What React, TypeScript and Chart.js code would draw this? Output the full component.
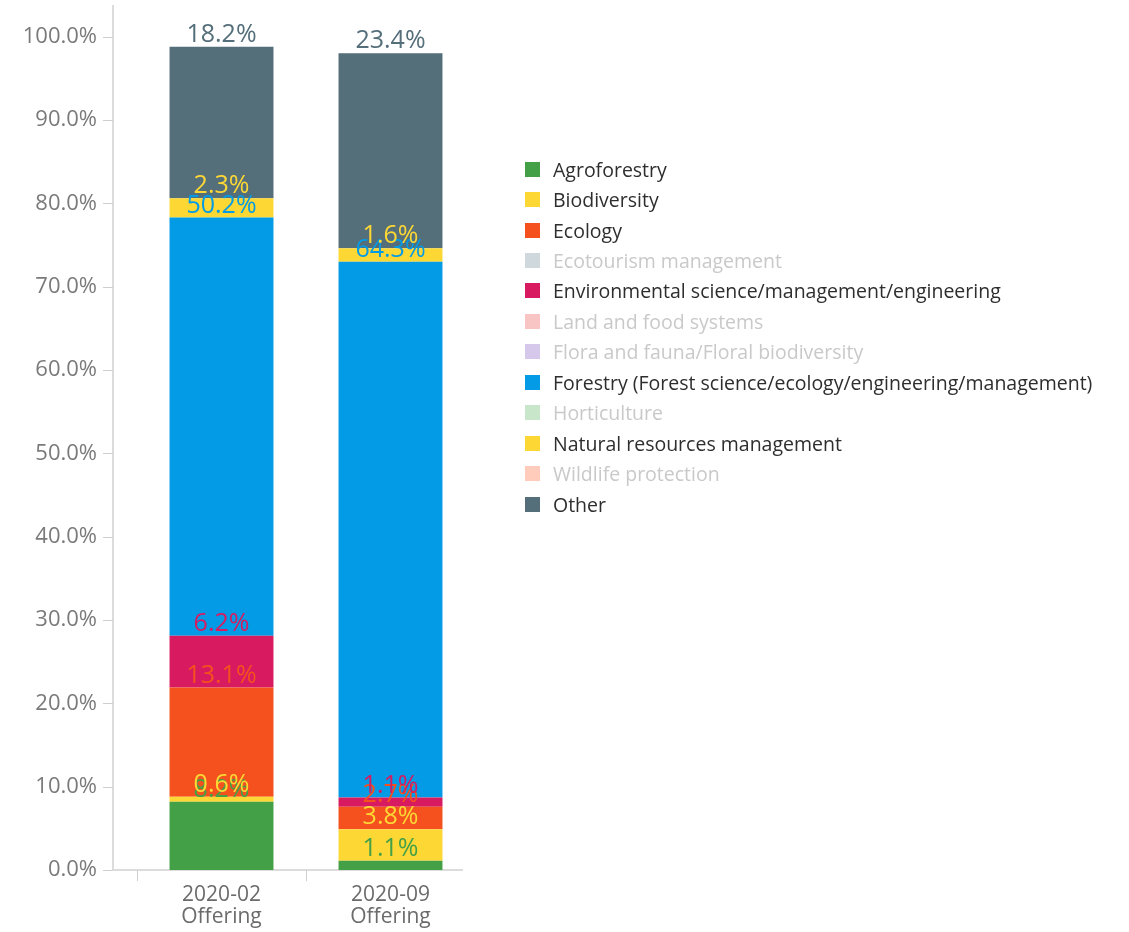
import React, { useEffect, useRef } from "react";
import { Chart, registerables } from "chart.js";

Chart.register(...registerables);

// ---- data ----
const categories: string[][] = [["2020-02", "Offering"], ["2020-09", "Offering"]];
const seriesNames = [
  "Agroforestry",
  "Biodiversity",
  "Ecology",
  "Ecotourism management",
  "Environmental science/management/engineering",
  "Land and food systems",
  "Flora and fauna/Floral biodiversity",
  "Forestry (Forest science/ecology/engineering/management)",
  "Horticulture",
  "Natural resources management",
  "Wildlife protection",
  "Other",
];
const agroforestry = [8.2, 1.1];
const biodiversity = [0.6, 3.8];
const ecology = [13.1, 2.7];
const ecotourism = [null, null];
const envScience = [6.2, 1.1];
const landFood = [null, null];
const floraFauna = [null, null];
const forestry = [50.2, 64.3];
const horticulture = [null, null];
const naturalResources = [2.3, 1.6];
const wildlife = [null, null];
const other = [18.2, 23.4];
const seriesValues = [
  agroforestry, biodiversity, ecology, ecotourism, envScience, landFood,
  floraFauna, forestry, horticulture, naturalResources, wildlife, other,
];
const seriesHidden = [false, false, false, true, false, true, true, false, true, false, true, false];
const seriesColors = [
  "#43a047", "#fdd835", "#f4511e", "#cfd8dc", "#d81b60", "#f8c4c4",
  "#d6c8ea", "#039be5", "#c8e6c9", "#fdd835", "#ffccbc", "#546e7a",
];
const yTickValues = [0, 10, 20, 30, 40, 50, 60, 70, 80, 90, 100];
const yMax = 103.8;

const FONT = "'Open Sans', 'Noto Sans', sans-serif";
const AXIS_GAP = 24; // y-axis line sits left of the first category band
const X_AXIS_SHORT = 12; // x-axis line stops short of the last band edge

const axisPlugin = {
  id: "customAxes",
  beforeDatasetsDraw(chart: any) {
    const { ctx, chartArea, scales } = chart;
    const x = scales.x;
    const y = scales.y;
    const axisX = chartArea.left - AXIS_GAP;
    ctx.save();
    ctx.strokeStyle = "#dcdcdc";
    ctx.lineWidth = 2;
    ctx.beginPath();
    ctx.moveTo(axisX, chartArea.top);
    ctx.lineTo(axisX, chartArea.bottom);
    ctx.moveTo(axisX, chartArea.bottom);
    ctx.lineTo(chartArea.right - X_AXIS_SHORT, chartArea.bottom);
    ctx.stroke();
    ctx.lineWidth = 1;
    ctx.strokeStyle = "#cfcfcf";
    ctx.beginPath();
    y.ticks.forEach((t: any) => {
      const py = Math.round(y.getPixelForValue(t.value)) + 0.5;
      ctx.moveTo(axisX - 10, py);
      ctx.lineTo(axisX, py);
    });
    const step = x.getPixelForValue(1) - x.getPixelForValue(0);
    for (let i = 0; i < categories.length; i++) {
      const px = Math.round(x.getPixelForValue(i) - step / 2) + 0.5;
      ctx.moveTo(px, chartArea.bottom);
      ctx.lineTo(px, chartArea.bottom + 11);
    }
    ctx.stroke();
    ctx.restore();
  },
};

const labelPlugin = {
  id: "segmentLabels",
  afterDatasetsDraw(chart: any) {
    const { ctx } = chart;
    ctx.save();
    ctx.font = `25px ${FONT}`;
    ctx.textAlign = "center";
    ctx.textBaseline = "alphabetic";
    chart.data.datasets.forEach((ds: any, i: number) => {
      if (!chart.isDatasetVisible(i)) return;
      const meta = chart.getDatasetMeta(i);
      meta.data.forEach((el: any, j: number) => {
        const v = ds.data[j];
        if (v === null || v === undefined) return;
        ctx.fillStyle = ds.backgroundColor;
        ctx.fillText(`${v.toFixed(1)}%`, el.x, el.y - 5);
      });
    });
    ctx.restore();
  },
};

export default function App() {
  const ref = useRef<HTMLCanvasElement>(null);
  useEffect(() => {
    document.body.style.margin = "0";
    if (!ref.current) return;
    const chart = new Chart(ref.current, {
      type: "bar",
      data: {
        labels: categories,
        datasets: seriesNames.map((name, i) => ({
          label: name,
          data: seriesValues[i],
          backgroundColor: seriesColors[i],
          hidden: seriesHidden[i],
          borderWidth: 0,
          categoryPercentage: 1,
          barPercentage: 0.615,
        })),
      },
      options: {
        responsive: false,
        devicePixelRatio: 1,
        animation: false,
        layout: { padding: { top: 5, right: 654, left: 0, bottom: 0 } },
        plugins: { legend: { display: false }, tooltip: { enabled: false } },
        scales: {
          x: {
            stacked: true,
            grid: { display: false, drawTicks: false },
            border: { display: false },
            ticks: {
              color: "#6b6b6b",
              font: { family: FONT, size: 21, lineHeight: 1.05 },
              padding: 14,
              maxRotation: 0,
            },
            afterFit(scale: any) {
              scale.height = 62;
              scale.paddingLeft = 0;
              scale.paddingRight = 0;
            },
          },
          y: {
            stacked: true,
            min: 0,
            max: yMax,
            grid: { display: false, drawTicks: false },
            border: { display: false },
            afterBuildTicks(scale: any) {
              scale.ticks = yTickValues.map((v) => ({ value: v }));
            },
            ticks: {
              color: "#7a7a7a",
              font: { family: FONT, size: 22 },
              padding: 40,
              callback: (v: any) => `${Number(v).toFixed(1)}%`,
            },
            afterFit(scale: any) {
              scale.width = 137;
              scale.paddingTop = 0;
              scale.paddingBottom = 0;
            },
          },
        },
      },
      plugins: [axisPlugin, labelPlugin],
    });
    return () => chart.destroy();
  }, []);

  return (
    <div style={{ position: "relative", width: 1129, height: 932, background: "#fff" }}>
      <canvas ref={ref} width={1129} height={932} style={{ display: "block" }} />
      <div
        style={{
          position: "absolute",
          left: 525,
          top: 154,
          fontFamily: FONT,
          fontSize: 19.5,
        }}
      >
        {seriesNames.map((name, i) => (
          <div
            key={name}
            style={{ display: "flex", alignItems: "center", height: 30.45, whiteSpace: "nowrap" }}
          >
            <span
              style={{
                width: 15,
                height: 15,
                background: seriesColors[i],
                display: "inline-block",
                marginRight: 13,
                flex: "none",
              }}
            />
            <span style={{ color: seriesHidden[i] ? "#c9c9c9" : "#2e2e2e" }}>{name}</span>
          </div>
        ))}
      </div>
    </div>
  );
}
